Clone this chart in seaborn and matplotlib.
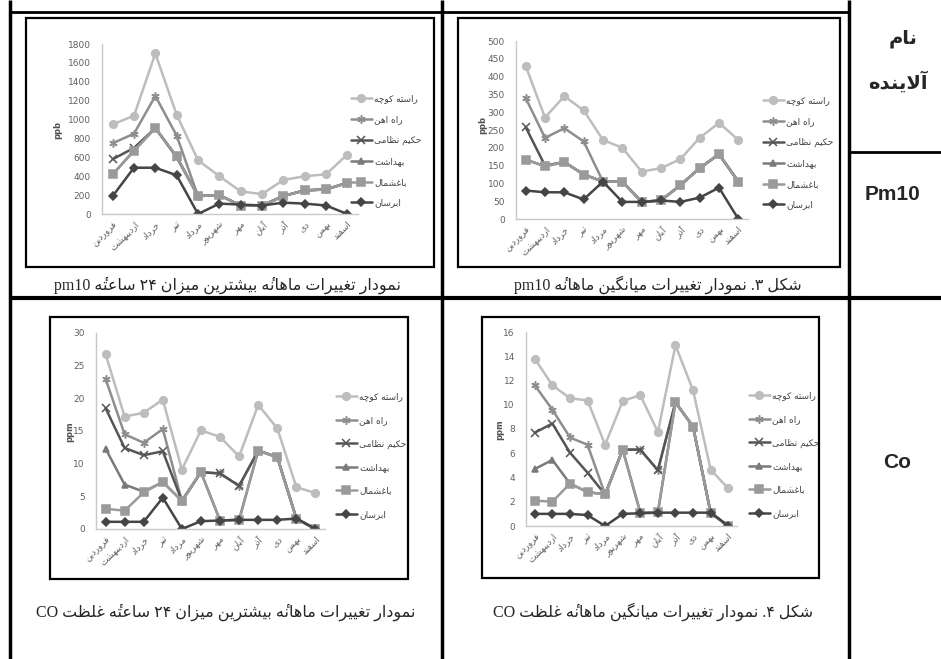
import numpy as np
import pandas as pd
import matplotlib
matplotlib.use("Agg")
import matplotlib.pyplot as plt
import seaborn as sns
from matplotlib.patches import Rectangle
from matplotlib.lines import Line2D

# categories
months = ["فروردین", "اردیبهشت", "خرداد", "تیر", "مرداد", "شهریور",
          "مهر", "آبان", "آذر", "دی", "بهمن", "اسفند"]
stations = ["راسته کوچه", "راه اهن", "حکیم نظامی", "بهداشت", "باغشمال", "ابرسان"]

# pm10, max 24h (ppb)
pm_max_rk = [950, 1040, 1700, 1050, 570, 400, 240, 210, 360, 400, 420, 630]
pm_max_ra = [750, 850, 1250, 830, 190, 200, 90, 90, 190, 250, 260, 330]
pm_max_hn = [580, 700, 910, 600, 190, 200, 90, 90, 190, 250, 260, 330]
pm_max_bh = [420, 670, 910, 610, 190, 200, 90, 90, 190, 250, 260, 330]
pm_max_bg = [420, 670, 910, 610, 190, 200, 90, 90, 190, 250, 260, 330]
pm_max_ab = [190, 490, 490, 410, 0, 110, 100, 90, 120, 110, 90, 0]

# pm10, monthly mean (ppb)
pm_avg_rk = [430, 285, 345, 305, 222, 200, 133, 143, 168, 228, 270, 222]
pm_avg_ra = [340, 228, 255, 218, 105, 105, 48, 52, 95, 143, 182, 105]
pm_avg_hn = [258, 150, 160, 125, 105, 105, 48, 52, 95, 143, 182, 105]
pm_avg_bh = [167, 148, 160, 125, 105, 105, 48, 52, 95, 143, 182, 105]
pm_avg_bg = [167, 148, 160, 125, 105, 105, 48, 52, 95, 143, 182, 105]
pm_avg_ab = [80, 75, 75, 55, 105, 48, 48, 52, 48, 60, 88, 0]

# CO, max 24h (ppm)
co_max_rk = [26.8, 17.2, 17.8, 19.8, 9.1, 15.1, 14.1, 11.1, 19.0, 15.4, 6.4, 5.5]
co_max_ra = [23.0, 14.5, 13.2, 15.3, 4.3, 8.7, 8.5, 6.6, 12.0, 11.0, 1.6, 0]
co_max_hn = [18.5, 12.4, 11.3, 11.9, 4.3, 8.7, 8.5, 6.6, 12.0, 11.0, 1.6, 0]
co_max_bh = [12.3, 6.8, 5.7, 7.2, 4.3, 8.7, 1.3, 1.4, 12.0, 11.0, 1.6, 0]
co_max_bg = [3.1, 2.8, 5.6, 7.2, 4.3, 8.7, 1.3, 1.4, 12.0, 11.0, 1.5, 0]
co_max_ab = [1.1, 1.1, 1.1, 4.8, 0, 1.2, 1.3, 1.4, 1.4, 1.4, 1.6, 0]

# CO, monthly mean (ppm)
co_avg_rk = [13.8, 11.6, 10.55, 10.35, 6.7, 10.3, 10.8, 7.75, 14.9, 11.2, 4.65, 3.1]
co_avg_ra = [11.6, 9.6, 7.3, 6.7, 2.6, 6.3, 6.3, 4.6, 10.2, 8.2, 1.1, 0]
co_avg_hn = [7.7, 8.45, 6.05, 4.4, 2.6, 6.3, 6.3, 4.6, 10.2, 8.2, 1.1, 0]
co_avg_bh = [4.7, 5.45, 3.5, 2.8, 2.6, 6.3, 1.1, 1.1, 10.2, 8.2, 1.1, 0]
co_avg_bg = [2.1, 2.0, 3.5, 2.8, 2.6, 6.3, 1.1, 1.15, 10.2, 8.2, 1.1, 0]
co_avg_ab = [1.0, 1.0, 1.0, 0.9, 0, 1.0, 1.05, 1.1, 1.1, 1.1, 1.1, 0]

captions = [
    "نمودار تغییرات ماهانهٔ بیشترین میزان ۲۴ ساعتهٔ pm10",
    "شکل ۳. نمودار تغییرات میانگین ماهانهٔ pm10",
    "نمودار تغییرات ماهانهٔ بیشترین میزان ۲۴ ساعتهٔ غلظت CO",
    "شکل ۴. نمودار تغییرات میانگین ماهانهٔ غلظت CO",
]
header = ["نام", "آلاینده"]
pollutants = ["Pm10", "Co"]

# --- small arabic shaping, matplotlib has no bidi/shaping of its own
FORMS = {
    "ا": "\uFE8D\uFE8E", "آ": "\uFE81\uFE82", "د": "\uFEA9\uFEAA", "ذ": "\uFEAB\uFEAC",
    "ر": "\uFEAD\uFEAE", "ز": "\uFEAF\uFEB0", "ژ": "\uFB8A\uFB8B", "و": "\uFEED\uFEEE",
    "ب": "\uFE8F\uFE90\uFE91\uFE92", "پ": "\uFB56\uFB57\uFB58\uFB59",
    "ت": "\uFE95\uFE96\uFE97\uFE98", "ث": "\uFE99\uFE9A\uFE9B\uFE9C",
    "ج": "\uFE9D\uFE9E\uFE9F\uFEA0", "چ": "\uFB7A\uFB7B\uFB7C\uFB7D",
    "ح": "\uFEA1\uFEA2\uFEA3\uFEA4", "خ": "\uFEA5\uFEA6\uFEA7\uFEA8",
    "س": "\uFEB1\uFEB2\uFEB3\uFEB4", "ش": "\uFEB5\uFEB6\uFEB7\uFEB8",
    "ص": "\uFEB9\uFEBA\uFEBB\uFEBC", "ط": "\uFEC1\uFEC2\uFEC3\uFEC4",
    "ظ": "\uFEC5\uFEC6\uFEC7\uFEC8", "ع": "\uFEC9\uFECA\uFECB\uFECC",
    "غ": "\uFECD\uFECE\uFECF\uFED0", "ف": "\uFED1\uFED2\uFED3\uFED4",
    "ق": "\uFED5\uFED6\uFED7\uFED8", "ک": "\uFB8E\uFB8F\uFB90\uFB91",
    "گ": "\uFB92\uFB93\uFB94\uFB95", "ل": "\uFEDD\uFEDE\uFEDF\uFEE0",
    "م": "\uFEE1\uFEE2\uFEE3\uFEE4", "ن": "\uFEE5\uFEE6\uFEE7\uFEE8",
    "ه": "\uFEE9\uFEEA\uFEEB\uFEEC", "ی": "\uFBFC\uFBFD\uFBFE\uFBFF",
}
MARKS = "\u0654"


def shape(word):
    # returns glyph clusters in logical order
    letters = [ch for ch in word if ch not in MARKS]
    marks_after = {}
    j = -1
    for ch in word:
        if ch in MARKS:
            marks_after[j] = marks_after.get(j, "") + ch
        else:
            j += 1
    res = []
    i = 0
    while i < len(letters):
        ch = letters[i]
        if ch not in FORMS:
            res.append(ch + marks_after.get(i, ""))
            i += 1
            continue
        prev = letters[i - 1] if i > 0 else ""
        joins_prev = prev in FORMS and len(FORMS[prev]) == 4
        if ch == "ل" and i + 1 < len(letters) and letters[i + 1] == "ا":
            res.append(("\uFEFC" if joins_prev else "\uFEFB") + marks_after.get(i + 1, ""))
            i += 2
            continue
        nxt = letters[i + 1] if i + 1 < len(letters) else ""
        joins_next = nxt in FORMS and len(FORMS[ch]) == 4
        f = FORMS[ch]
        if joins_prev and joins_next:
            g = f[3]
        elif joins_prev:
            g = f[1]
        elif joins_next:
            g = f[2]
        else:
            g = f[0]
        res.append(g + marks_after.get(i, ""))
        i += 1
    return res


def rtl(text):
    out = []
    for tok in text.split(" "):
        if any(ch in FORMS for ch in tok):
            out.append("".join(shape(tok)[::-1]))
        elif tok.endswith(".") and not tok.isascii():
            out.append("." + tok[:-1])
        else:
            out.append(tok)
    return " ".join(out[::-1])


sns.set_style("white")
plt.rcParams["font.family"] = ["DejaVu Sans"]

W, H = 941, 659
fig = plt.figure(figsize=(W / 100, H / 100), dpi=100)
fig.patch.set_facecolor("white")


def add_ax(x0, y0, x1, y1):
    return fig.add_axes([x0 / W, 1 - y1 / H, (x1 - x0) / W, (y1 - y0) / H])


def hline(y, x0, x1, lw):
    fig.add_artist(Line2D([x0 / W, x1 / W], [1 - y / H, 1 - y / H], color="black",
                          lw=lw, transform=fig.transFigure, solid_capstyle="butt"))


def vline(x, y0, y1, lw):
    fig.add_artist(Line2D([x / W, x / W], [1 - y0 / H, 1 - y1 / H], color="black",
                          lw=lw, transform=fig.transFigure, solid_capstyle="butt"))


colors = ["#bdbdbd", "#8e8e8e", "#555555", "#7a7a7a", "#9a9a9a", "#454545"]
markers = ["o", (6, 2, 0), "x", "^", "s", "D"]
msizes = [5.5, 6, 5.5, 5, 5.5, 4]

charts = [
    dict(vals=[pm_max_rk, pm_max_ra, pm_max_hn, pm_max_bh, pm_max_bg, pm_max_ab],
         ymax=1800, step=200, rect=(102, 44, 358, 214), unit="ppb", upos=(58, 130),
         leg=(346, 90), lsp=1.3, box=(26, 18, 434, 267), cap=(228, 285)),
    dict(vals=[pm_avg_rk, pm_avg_ra, pm_avg_hn, pm_avg_bh, pm_avg_bg, pm_avg_ab],
         ymax=500, step=50, rect=(516, 41, 748, 219), unit="ppb", upos=(483, 125),
         leg=(758, 92), lsp=1.3, box=(458, 18, 840, 267), cap=(658, 285)),
    dict(vals=[co_max_rk, co_max_ra, co_max_hn, co_max_bh, co_max_bg, co_max_ab],
         ymax=30, step=5, rect=(96, 333, 325, 529), unit="ppm", upos=(70, 432),
         leg=(331, 388), lsp=1.6, box=(50, 317, 408, 579), cap=(226, 612)),
    dict(vals=[co_avg_rk, co_avg_ra, co_avg_hn, co_avg_bh, co_avg_bg, co_avg_ab],
         ymax=16, step=2, rect=(526, 332, 737, 526), unit="ppm", upos=(500, 430),
         leg=(744, 387), lsp=1.6, box=(482, 317, 819, 578), cap=(653, 612)),
]

for k, c in enumerate(charts):
    bx0, by0, bx1, by1 = c["box"]
    fig.add_artist(Rectangle((bx0 / W, 1 - by1 / H), (bx1 - bx0) / W, (by1 - by0) / H,
                             transform=fig.transFigure, fill=False, ec="black", lw=1.6))
    ax = add_ax(*c["rect"])
    df = pd.DataFrame({
        "month": np.tile(np.arange(12), len(stations)),
        "station": np.repeat(stations, 12),
        "value": np.concatenate(c["vals"]),
    })
    for i, st in enumerate(stations):
        sub = df[df["station"] == st]
        sns.lineplot(data=sub, x="month", y="value", ax=ax, color=colors[i],
                     marker=markers[i], markersize=msizes[i], lw=1.8,
                     markeredgecolor=colors[i], markerfacecolor=colors[i],
                     markeredgewidth=1.1, label=rtl(st))
    ax.set_xlim(-0.5, 11.5)
    ax.set_ylim(0, c["ymax"])
    ax.set_yticks(np.arange(0, c["ymax"] + c["step"], c["step"]))
    ax.set_xticks(range(12))
    ax.set_xticklabels([rtl(m) for m in months], rotation=45, ha="right",
                       rotation_mode="anchor")
    ax.tick_params(axis="y", length=0, labelsize=6.5, colors="#606060", pad=8)
    ax.tick_params(axis="x", length=0, labelsize=6.5, colors="#606060", pad=4)
    ax.set_xlabel("")
    ax.set_ylabel("")
    sns.despine(ax=ax)
    for s in ("left", "bottom"):
        ax.spines[s].set_color("#c8c8c8")
        ax.spines[s].set_linewidth(1)
    fig.text(c["upos"][0] / W, 1 - c["upos"][1] / H, c["unit"], rotation=90,
             fontsize=6, fontweight="bold", color="#505050", ha="center", va="center")
    ax.legend(loc="upper left", bbox_to_anchor=(c["leg"][0] / W, 1 - c["leg"][1] / H),
              bbox_transform=fig.transFigure, frameon=False, fontsize=6.5,
              handlelength=2.4, handletextpad=0.2, labelspacing=c["lsp"], borderpad=0,
              labelcolor="#404040")
    fig.text(c["cap"][0] / W, 1 - c["cap"][1] / H, rtl(captions[k]), fontsize=11.5,
             family=["Liberation Serif", "DejaVu Sans"], ha="center", va="center")

# table rules
vline(10, 0, H, 2.5)
vline(442, 0, H, 2.5)
vline(849, 0, H, 2.5)
hline(12, 10, 849, 2)
hline(298, 10, W, 3)
hline(152, 849, W, 2)

fig.text(903 / W, 1 - 38 / H, rtl(header[0]), fontsize=14, fontweight="bold",
         ha="center", va="center")
fig.text(898 / W, 1 - 82 / H, rtl(header[1]), fontsize=14, fontweight="bold",
         ha="center", va="center")
fig.text(893 / W, 1 - 195 / H, pollutants[0], fontsize=15, fontweight="bold",
         family=["Liberation Sans"], ha="center", va="center")
fig.text(897 / W, 1 - 462 / H, pollutants[1], fontsize=15, fontweight="bold",
         family=["Liberation Sans"], ha="center", va="center")

fig.savefig("out.png", dpi=100)
